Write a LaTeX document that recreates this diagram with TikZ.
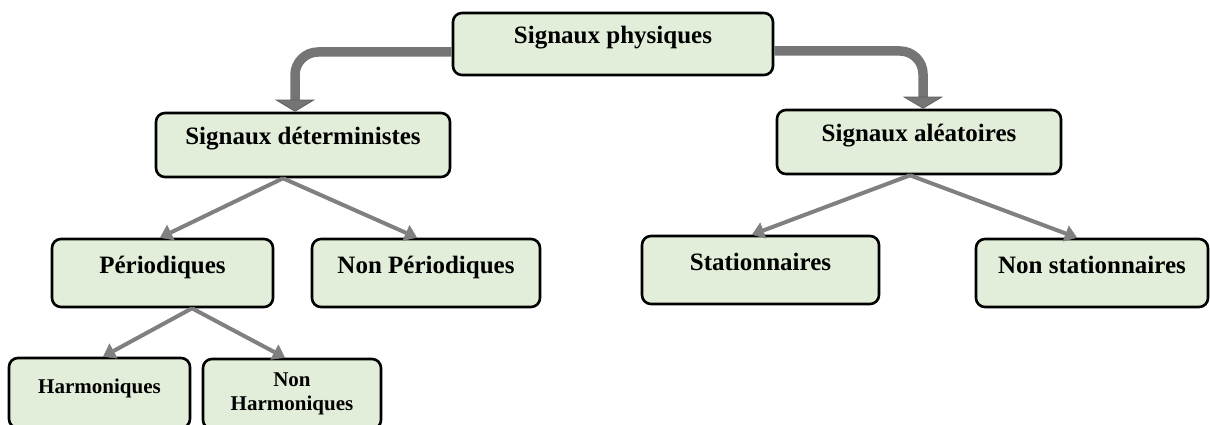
\documentclass[tikz,border=0pt]{standalone}
\usepackage{fontspec}
\setmainfont{Liberation Serif}
\usetikzlibrary{arrows.meta}
\definecolor{boxfill}{RGB}{226,238,217}
\definecolor{linkgray}{RGB}{128,128,128}
\definecolor{trunkgray}{RGB}{117,117,117}
\definecolor{trunkedge}{RGB}{95,95,95}

\begin{document}
\begin{tikzpicture}[x=1pt,y=-1pt,
  box/.style={draw=black, line width=2.6pt, fill=boxfill, rounded corners=9pt,
    inner sep=0pt, font=\fontsize{25}{29}\selectfont\bfseries},
  oneline/.style={text height=0pt, text depth=0pt},
  smallbox/.style={font=\fontsize{21}{24}\selectfont\bfseries},
  link/.style={draw=linkgray, line width=4pt,
    -{Triangle[length=12pt,width=17pt,line width=0.5pt,fill=linkgray]}},
  trunk/.style={draw=trunkgray, line width=9.5pt, rounded corners=23pt,
    -{Triangle[length=12pt,width=40pt,line width=0.8pt,fill=trunkgray,color=trunkedge]}}
]
\useasboundingbox (0,0) rectangle (1210,425);

% boxes
\node[box, oneline, minimum width=320pt, minimum height=62pt] (phys) at (613,44) {Signaux physiques};
\node[box, oneline, minimum width=294pt, minimum height=64pt] (det) at (303,145) {Signaux déterministes};
\node[box, oneline, minimum width=284pt, minimum height=64pt] (alea) at (919,142) {Signaux aléatoires};
\node[box, oneline, minimum width=221pt, minimum height=68pt] (per) at (162.5,273) {Périodiques};
\node[box, oneline, minimum width=228pt, minimum height=68pt] (nonper) at (426,273) {Non Périodiques};
\node[box, oneline, minimum width=237pt, minimum height=68pt] (stat) at (760.5,270) {Stationnaires};
\node[box, oneline, minimum width=232pt, minimum height=68pt] (nonstat) at (1092,273) {Non stationnaires};
\node[box, oneline, smallbox, minimum width=181pt, minimum height=70pt] (harm) at (99.5,393) {Harmoniques};
\node[box, smallbox, align=center, minimum width=178pt, minimum height=70pt] (nonharm) at (292,394) {Non\\Harmoniques};

% main branches
\draw[trunk] ([yshift=-8pt]phys.west) -| ([xshift=-8pt]det.north);
\draw[trunk] ([yshift=-7pt]phys.east) -| ([xshift=4pt]alea.north);

% sub-branches
\draw[link] ([xshift=-20pt]det.south) -- ([xshift=-2.5pt]per.north);
\draw[link] ([xshift=-20pt]det.south) -- ([xshift=-9pt]nonper.north);
\draw[link] ([xshift=29.5pt]per.south) -- ([xshift=3.5pt]harm.north);
\draw[link] ([xshift=29.5pt]per.south) -- ([xshift=-7pt]nonharm.north);
\draw[link] ([xshift=-9pt]alea.south) -- ([xshift=-8.5pt]stat.north);
\draw[link] ([xshift=-9pt]alea.south) -- ([xshift=-15pt]nonstat.north);
\end{tikzpicture}
\end{document}
